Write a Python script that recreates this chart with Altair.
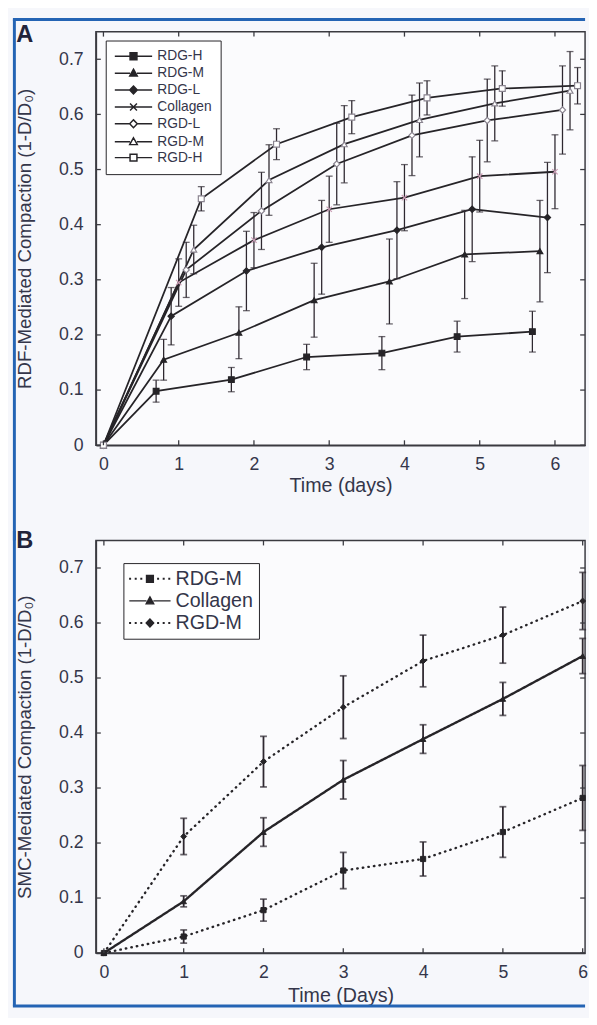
import altair as alt
import pandas as pd

# ---------------- data ----------------
days = [0, 1, 2, 3, 4, 5, 6]

a_series = ["RDG-H", "RDG-M", "RDG-L", "Collagen", "RGD-L", "RGD-M", "RGD-H"]
a_stagger = [-0.3, -0.2, -0.1, 0.0, 0.1, 0.2, 0.3]

rdg_h_mean = [0, 0.098, 0.119, 0.160, 0.167, 0.197, 0.206]
rdg_h_err = [0, 0.020, 0.022, 0.023, 0.030, 0.028, 0.037]
rdg_m_mean = [0, 0.155, 0.204, 0.263, 0.297, 0.346, 0.352]
rdg_m_err = [0, 0.037, 0.047, 0.067, 0.077, 0.080, 0.092]
rdg_l_mean = [0, 0.234, 0.316, 0.359, 0.390, 0.428, 0.413]
rdg_l_err = [0, 0.052, 0.072, 0.085, 0.088, 0.095, 0.100]
col_a_mean = [0, 0.295, 0.372, 0.428, 0.449, 0.488, 0.496]
col_a_err = [0, 0.043, 0.050, 0.060, 0.060, 0.065, 0.067]
rgd_l_mean = [0, 0.318, 0.425, 0.510, 0.562, 0.589, 0.608]
rgd_l_err = [0, 0.050, 0.070, 0.074, 0.073, 0.075, 0.080]
rgd_m_mean = [0, 0.355, 0.481, 0.546, 0.590, 0.620, 0.643]
rgd_m_err = [0, 0.044, 0.064, 0.070, 0.067, 0.068, 0.071]
rgd_h_mean = [0, 0.447, 0.546, 0.595, 0.630, 0.647, 0.652]
rgd_h_err = [0, 0.022, 0.028, 0.030, 0.031, 0.032, 0.033]

b_series = ["RDG-M", "Collagen", "RGD-M"]
b_rdg_m_mean = [0, 0.030, 0.078, 0.150, 0.171, 0.220, 0.282]
b_rdg_m_err = [0, 0.012, 0.020, 0.033, 0.031, 0.046, 0.059]
b_col_mean = [0, 0.094, 0.220, 0.315, 0.389, 0.462, 0.540]
b_col_err = [0, 0.010, 0.026, 0.035, 0.026, 0.030, 0.032]
b_rgd_m_mean = [0, 0.212, 0.348, 0.447, 0.531, 0.578, 0.640]
b_rgd_m_err = [0, 0.033, 0.046, 0.057, 0.047, 0.051, 0.052]

y_ticks = [0, 0.1, 0.2, 0.3, 0.4, 0.5, 0.6, 0.7]
x_ticks = [0, 1, 2, 3, 4, 5, 6]
panel_labels = ["A", "B"]

# ---------------- tables ----------------
a_means = [rdg_h_mean, rdg_m_mean, rdg_l_mean, col_a_mean, rgd_l_mean, rgd_m_mean, rgd_h_mean]
a_errs = [rdg_h_err, rdg_m_err, rdg_l_err, col_a_err, rgd_l_err, rgd_m_err, rgd_h_err]
rows = []
for s, off, m, e in zip(a_series, a_stagger, a_means, a_errs):
    for d, v, er in zip(days, m, e):
        rows.append({"series": s, "t": d + off if d > 0 else 0.0, "v": v,
                     "lo": v - er, "hi": v + er, "err": er})
dfA = pd.DataFrame(rows)

b_means = [b_rdg_m_mean, b_col_mean, b_rgd_m_mean]
b_errs = [b_rdg_m_err, b_col_err, b_rgd_m_err]
rows = []
for s, m, e in zip(b_series, b_means, b_errs):
    for d, v, er in zip(days, m, e):
        rows.append({"series": s, "t": d, "v": v, "lo": v - er, "hi": v + er, "err": er})
dfB = pd.DataFrame(rows)

yt = pd.DataFrame({"v": y_ticks})
xt = pd.DataFrame({"t": x_ticks})
one = pd.DataFrame({"k": [0]})

# ---------------- style ----------------
FONT = "Liberation Sans"
TXT = "#34364a"
LINE = "#262428"
ERR = "#2e2830"
FRAME = "#3a3a40"
BG = "#f6f7fb"
BLUE = "#2464b4"
TICK = 5

W = 498
HA, HB = 421, 420
GAP = 97  # distance between the two plot frames


def fmt(v):
    return ("%.2f" % v).rstrip("0").rstrip(".")


def legend_paths(kinds, u, cx_px, total_px, mark_px, dotted=None):
    """Custom legend glyphs (line + marker) in Vega symbol units."""
    L = -cx_px / u
    R = (total_px - cx_px) / u
    C = (total_px / 2 - cx_px) / u
    h = mark_px / 2 / u
    out = []
    for i, k in enumerate(kinds):
        if dotted and dotted[i]:
            step = 5.7 / u
            d = 0.08
            segs = []
            x = L + 0.2
            while x < R:
                if abs(x - C) > h + 0.3:
                    segs.append(f"M{fmt(x-d)},{fmt(-d)}H{fmt(x+d)}V{fmt(d)}H{fmt(x-d)}Z")
                x += step
            line = "".join(segs)
        elif k == "x":
            line = f"M{fmt(L)},0H{fmt(R)}"
        else:
            line = f"M{fmt(L)},0H{fmt(C-h)}M{fmt(C+h)},0H{fmt(R)}"
        if k == "square":
            m = f"M{fmt(C-h)},{fmt(-h)}H{fmt(C+h)}V{fmt(h)}H{fmt(C-h)}Z"
        elif k == "triangle":
            m = f"M{fmt(C)},{fmt(-h*1.15)}L{fmt(C+h*1.1)},{fmt(h*0.85)}H{fmt(C-h*1.1)}Z"
        elif k == "diamond":
            m = f"M{fmt(C)},{fmt(-h*1.15)}L{fmt(C+h*1.1)},0L{fmt(C)},{fmt(h*1.15)}L{fmt(C-h*1.1)},0Z"
        else:  # x
            m = f"M{fmt(C-h)},{fmt(-h)}L{fmt(C+h)},{fmt(h)}M{fmt(C-h)},{fmt(h)}L{fmt(C+h)},{fmt(-h)}"
        out.append(line + m)
    return out


a_kinds = ["square", "triangle", "diamond", "x", "diamond", "triangle", "square"]
a_fill = [LINE, LINE, LINE, "#ffffff", "#ffffff", "#ffffff", "#ffffff"]
a_mark_shape = ["square", "triangle-up", "diamond", "M-1,-1L1,1M-1,1L1,-1", "diamond", "triangle-up", "square"]
a_mark_fill = [LINE, LINE, LINE, "transparent", "#ffffff", "#ffffff", "#ffffff"]
a_mark_stroke = [LINE, LINE, LINE, "#c99cb4", "#8a8490", "#8a8490", "#8a8490"]
a_mark_size = [34, 34, 40, 30, 40, 36, 36]

b_kinds = ["square", "triangle", "diamond"]
b_dotted = [True, False, True]
b_mark_shape = ["square", "triangle-up", "diamond"]
b_mark_size = [28, 32, 36]
b_dash = [[0.5, 5.2], [1, 0], [0.5, 5.2]]


def inward_ticks(xscale, yscale, H):
    left = alt.Chart(yt).mark_rule(color=FRAME, strokeWidth=1.3).encode(
        y=alt.Y("v:Q", scale=yscale), x=alt.value(0), x2=alt.value(TICK))
    right = alt.Chart(yt).mark_rule(color=FRAME, strokeWidth=1.3).encode(
        y=alt.Y("v:Q", scale=yscale), x=alt.value(W - TICK), x2=alt.value(W))
    bottom = alt.Chart(xt).mark_rule(color=FRAME, strokeWidth=1.3).encode(
        x=alt.X("t:Q", scale=xscale), y=alt.value(H - TICK), y2=alt.value(H))
    top = alt.Chart(xt).mark_rule(color=FRAME, strokeWidth=1.3).encode(
        x=alt.X("t:Q", scale=xscale), y=alt.value(0), y2=alt.value(TICK))
    return [left, right, bottom, top]


def axes(xscale, yscale, xtitle, ytitle, xtitlepad):
    x = alt.X("t:Q", scale=xscale, title=xtitle,
              axis=alt.Axis(values=x_ticks, format="d", tickSize=0, labelPadding=11,
                            labelFontSize=18, titleFontSize=20, titlePadding=xtitlepad,
                            titleFontWeight="normal"))
    y = alt.Y("v:Q", scale=yscale, title=ytitle,
              axis=alt.Axis(values=y_ticks, format=".1~f", tickSize=0, labelPadding=13,
                            labelFontSize=18, titleFontSize=19, titlePadding=25,
                            titleFontWeight="normal"))
    return x, y


def panel_label(i, base_y):
    return alt.Chart(pd.DataFrame({"lab": [panel_labels[i]]})).mark_text(
        font=FONT, fontSize=24, fontWeight="bold", color="#22243a",
        align="left", baseline="alphabetic"
    ).encode(text="lab:N", x=alt.value(-81), y=alt.value(base_y))


def frame_rule(**enc):
    # decorative blue figure border (outside the plot area)
    return alt.Chart(one).mark_rule(color=BLUE, strokeWidth=3).encode(**{k: alt.value(v) for k, v in enc.items()})


def legend_layer(base, domain, paths, fills, props):
    lg = alt.Legend(**props)
    return base.transform_filter("false").mark_point(
        filled=False, color=LINE, strokeWidth=1.5, opacity=1
    ).encode(
        x="t:Q", y="v:Q",
        shape=alt.Shape("series:N", scale=alt.Scale(domain=domain, range=paths), title=None, legend=lg),
        fill=alt.Fill("series:N", scale=alt.Scale(domain=domain, range=fills), title=None, legend=lg),
        stroke=alt.Stroke("series:N", scale=alt.Scale(domain=domain, range=[LINE] * len(domain)),
                          title=None, legend=lg),
    )


# ---------------- panel A ----------------
xsA = alt.Scale(domain=[-0.1, 6.4], nice=False, zero=False)
ysA = alt.Scale(domain=[0, 0.75], nice=False)
xA, yA = axes(xsA, ysA, "Time (days)", "RDF-Mediated Compaction (1-D/D₀)", 2)

baseA = alt.Chart(dfA)
linesA = baseA.mark_line(color=LINE, strokeWidth=1.8).encode(x=xA, y=yA, detail="series:N")
errA = baseA.transform_filter("datum.err > 0")
barsA = errA.mark_rule(color=ERR, strokeWidth=1.3).encode(x="t:Q", y="lo:Q", y2="hi:Q")
capLoA = errA.mark_tick(color=ERR, orient="horizontal", size=7, thickness=1.3).encode(x="t:Q", y="lo:Q")
capHiA = errA.mark_tick(color=ERR, orient="horizontal", size=7, thickness=1.3).encode(x="t:Q", y="hi:Q")

markersA = []
for s, shp, f, st, sz in zip(a_series, a_mark_shape, a_mark_fill, a_mark_stroke, a_mark_size):
    markersA.append(
        baseA.transform_filter(alt.datum.series == s).mark_point(
            shape=shp, size=sz, fill=f, stroke=st, strokeWidth=1.2, opacity=1, filled=False
        ).encode(x="t:Q", y="v:Q")
    )

legA_props = dict(orient="none", legendX=10, legendY=9, title=None,
                  symbolSize=64, symbolStrokeWidth=1.5, symbolStrokeColor=LINE,
                  labelFont=FONT, labelFontSize=14, labelColor=TXT,
                  labelOffset=29.5, rowPadding=2.2, padding=9,
                  strokeColor=LINE, fillColor="#ffffff", symbolOpacity=1)
legA = legend_layer(baseA, a_series, legend_paths(a_kinds, 4, 6.75, 38, 7), a_fill, legA_props)

panelA = alt.layer(
    linesA, barsA, capLoA, capHiA, *markersA, legA, *inward_ticks(xsA, ysA, HA), panel_label(0, 10),
    frame_rule(x=-83, y=-12.5, y2=HA + GAP),
    frame_rule(y=-12.5, x=-84.5, x2=W),
).properties(width=W, height=HA)

# ---------------- panel B ----------------
xsB = alt.Scale(domain=[-0.1, 6.03], nice=False, zero=False)
ysB = alt.Scale(domain=[0, 0.75], nice=False)
xB, yB = axes(xsB, ysB, "Time (Days)", "SMC-Mediated Compaction (1-D/D₀)", 4)

baseB = alt.Chart(dfB)
linesB = []
for i, (s, dash) in enumerate(zip(b_series, b_dash)):
    enc = dict(x=xB, y=yB) if i == 0 else dict(x="t:Q", y="v:Q")
    linesB.append(
        baseB.transform_filter(alt.datum.series == s).mark_line(
            color=LINE, strokeWidth=2.4, strokeCap="round", strokeDash=dash
        ).encode(**enc)
    )
errB = baseB.transform_filter("datum.err > 0")
barsB = errB.mark_rule(color=ERR, strokeWidth=1.8).encode(x="t:Q", y="lo:Q", y2="hi:Q")
capLoB = errB.mark_tick(color=ERR, orient="horizontal", size=7, thickness=1.8).encode(x="t:Q", y="lo:Q")
capHiB = errB.mark_tick(color=ERR, orient="horizontal", size=7, thickness=1.8).encode(x="t:Q", y="hi:Q")

markersB = []
for s, shp, sz in zip(b_series, b_mark_shape, b_mark_size):
    markersB.append(
        baseB.transform_filter(alt.datum.series == s).mark_point(
            shape=shp, size=sz, fill=LINE, stroke=LINE, strokeWidth=1, opacity=1, filled=False
        ).encode(x="t:Q", y="v:Q")
    )

legB_props = dict(orient="none", legendX=28, legendY=23, title=None,
                  symbolSize=64, symbolStrokeWidth=1.4, symbolStrokeColor=LINE,
                  labelFont=FONT, labelFontSize=20, labelColor=TXT,
                  labelOffset=27, rowPadding=2.5, padding=6,
                  strokeColor=LINE, fillColor="#ffffff", symbolOpacity=1)
legB = legend_layer(baseB, b_series, legend_paths(b_kinds, 4, 10, 42, 7, dotted=b_dotted),
                    [LINE, LINE, LINE], legB_props)

panelB = alt.layer(
    *linesB, barsB, capLoB, capHiB, *markersB, legB, *inward_ticks(xsB, ysB, HB), panel_label(1, 8),
    frame_rule(x=-83, y=-10, y2=474),
    frame_rule(y=474, x=-84.5, x2=W),
).properties(width=W, height=HB)

chart = alt.vconcat(panelA, panelB, spacing=GAP, bounds="flush").resolve_scale(
    shape="independent", fill="independent", stroke="independent"
).resolve_legend(
    shape="independent", fill="independent", stroke="independent"
).properties(
    background=BG,
    padding={"left": 2.5, "top": 0, "right": 0, "bottom": 0},
).configure_view(
    stroke=FRAME, strokeWidth=1.5, fill="#fbfbfd"
).configure_axis(
    labelFont=FONT, titleFont=FONT, labelColor=TXT, titleColor=TXT,
    domainColor=FRAME, domainWidth=1.5, grid=False,
)

chart.save("out.html", embed_options={"renderer": "svg", "actions": False})
